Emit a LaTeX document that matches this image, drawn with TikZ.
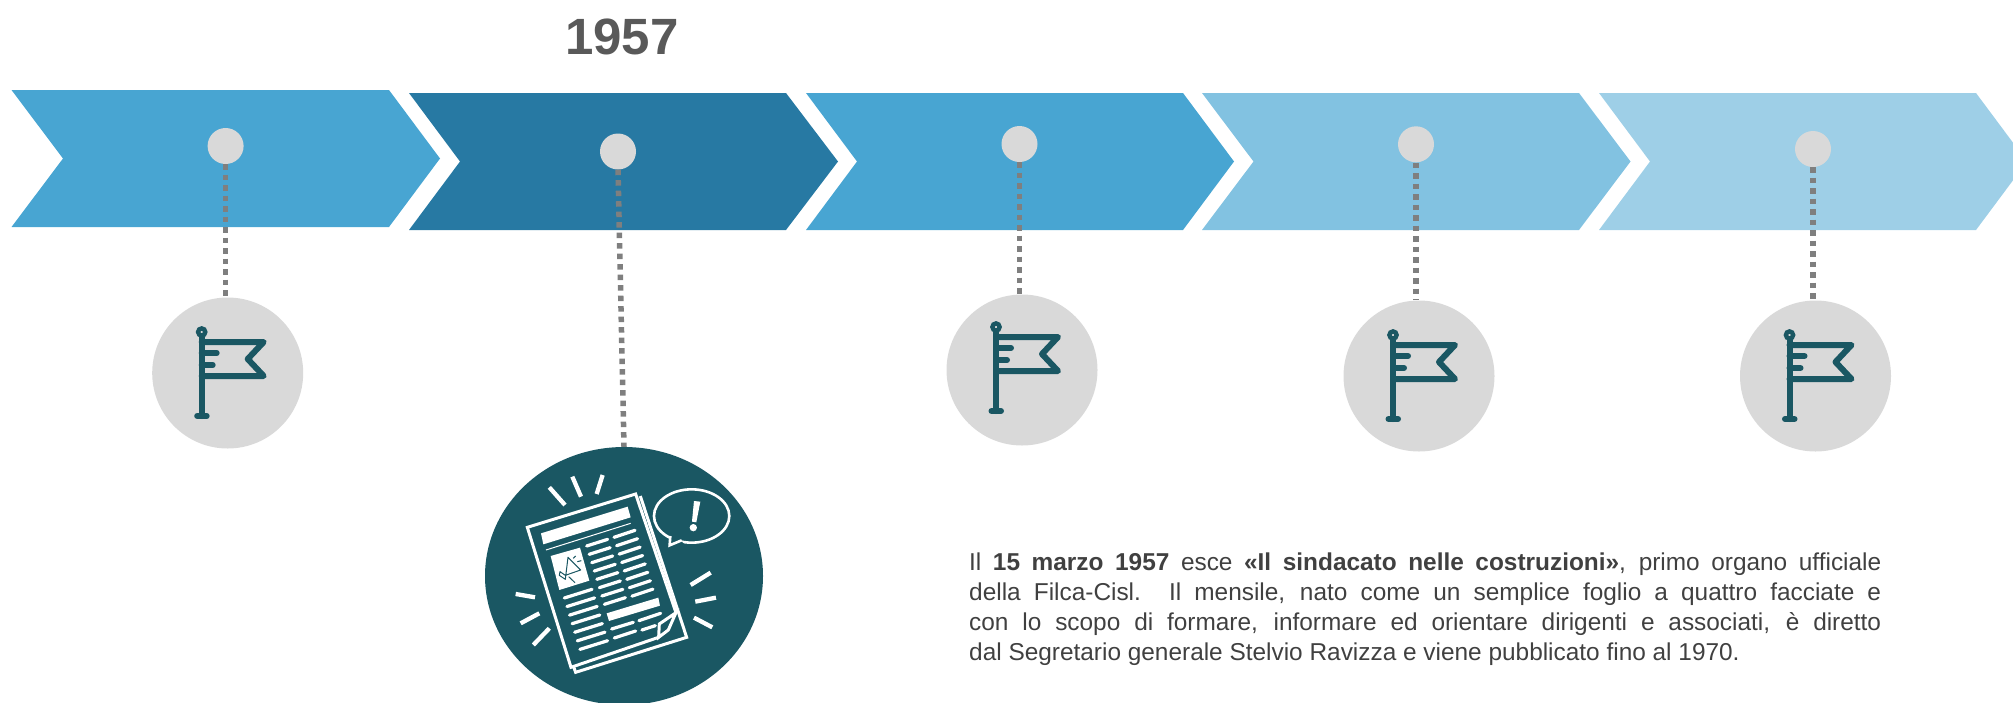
\documentclass[tikz,border=0pt]{standalone}
\usepackage{fontspec}
\setmainfont{Liberation Sans}
\usetikzlibrary{shapes.geometric}

\definecolor{chevmid}{HTML}{48A5D2}
\definecolor{chevdark}{HTML}{2779A3}
\definecolor{chevlight}{HTML}{82C2E1}
\definecolor{chevpale}{HTML}{9ECFE7}
\definecolor{teal}{HTML}{1A5763}
\definecolor{disc}{HTML}{D9D9D9}
\definecolor{dotline}{HTML}{7F7F7F}
\definecolor{bodytext}{HTML}{404040}

\tikzset{
	pin/.style={circle, fill=disc, inner sep=0pt, minimum size=36pt},
	badge/.style={circle, fill=disc, inner sep=0pt, minimum size=151pt},
	link/.style={dotline, line width=5.5pt, dash pattern=on 5.5pt off 5pt},
	flagline/.style={teal, line width=6pt, line cap=round, line join=round},
	paper/.style={white, line width=3pt, line join=miter},
	textline/.style={white, line width=3.2pt, line cap=round},
	ray/.style={white, line width=4.3pt},
}

\newcommand{\flagicon}[1]{
	\begin{scope}[shift={(#1)}]
		\draw[flagline] (-26,-36) -- (-26,43);
		\draw[flagline] (-30.5,43) -- (-21,43);
		\draw[flagline] (-26,-31) -- (36,-31) -- (20,-14) -- (36,3) -- (-26,3);
		\draw[flagline] (-26,-20) -- (-11,-20);
		\draw[flagline] (-26,-8) -- (-15,-8);
		\draw[teal, line width=4.4pt] (-26,-41) circle(3.6);
	\end{scope}
}

\begin{document}
\begin{tikzpicture}[x=1pt, y=-1pt]

	\useasboundingbox (0,0) rectangle (2013,702);

	\fill[chevmid] (11.5,90) -- (389,90) -- (440,158.5) -- (389,227) -- (11.5,227) -- (63,158.5) -- cycle;
	\fill[chevdark] (409,93) -- (786,93) -- (838,161.5) -- (786,230) -- (409,230) -- (460,161.5) -- cycle;
	\fill[chevmid] (806,93) -- (1183,93) -- (1234,161.5) -- (1183,230) -- (806,230) -- (857,161.5) -- cycle;
	\fill[chevlight] (1202,93) -- (1579,93) -- (1630.5,161.5) -- (1579,230) -- (1202,230) -- (1253.5,161.5) -- cycle;
	\fill[chevpale] (1599,93) -- (1976,93) -- (2027,161.5) -- (1976,230) -- (1599,230) -- (1650,161.5) -- cycle;

	\node[pin] (pin1) at (225.6,146) {};
	\node[pin] (pin2) at (618,151.5) {};
	\node[pin] (pin3) at (1019.5,144) {};
	\node[pin] (pin4) at (1416,144.3) {};
	\node[pin] (pin5) at (1813,149) {};

	\node[badge] (badge1) at (227.7,373) {};
	\node[ellipse, fill=teal, inner sep=0pt, minimum width=278pt, minimum height=258pt] (badge2) at (624,576) {};
	\node[badge] (badge3) at (1022,370) {};
	\node[badge] (badge4) at (1419,376) {};
	\node[badge] (badge5) at (1815.5,376) {};

	\draw[link] (pin1.south) -- (pin1.south |- badge1.north);
	\draw[link] (pin2.south) -- (badge2.north);
	\draw[link] (pin3.south) -- (pin3.south |- badge3.north);
	\draw[link] (pin4.south) -- (pin4.south |- badge4.north);
	\draw[link] (pin5.south) -- (pin5.south |- badge5.north);

	\flagicon{227.7,373}
	\flagicon{1022,368}
	\flagicon{1419,376}
	\flagicon{1815.5,376}

	% newspaper, in units of a third of a pixel
	\begin{scope}[shift={(460,430)}, x=0.3333pt, y=-0.3333pt]
		\draw[paper] (648,548) -- (527,192) -- (202,292) -- (333,712) -- (596,622);
		\draw[paper] (541,198) -- (680,622) -- (347,727) -- (340,708);
		\draw[paper] (648,548) -- (598,582) -- (596,622) -- (625,600) -- cycle;

		\fill[white] (243,310) -- (503,230) -- (512,262) -- (250,343) -- cycle;
		\draw[white, line width=1pt] (258,360) -- (512,280);
		\fill[white] (440,550) -- (595,503) -- (600,527) -- (447,573) -- cycle;

		\fill[white] (272,378) -- (360,353) -- (388,452) -- (298,480) -- cycle;
		\draw[teal, line width=1pt, line join=round] (324,382) -- (362,420) -- (316,436) -- (300,425) -- (298,436) -- (316,448) -- cycle;
		\draw[teal, line width=1pt] (326,440) -- (345,458);
		\draw[teal, line width=1pt] (340,385) -- (347,378);
		\draw[teal, line width=1pt] (352,395) -- (364,392);

		\foreach \k in {0,...,7} {
			\draw[textline] (380+7.6*\k,348+25*\k) -- (443+7.6*\k,328+25*\k);
			\draw[textline] (462+7.7*\k,322+25.2*\k) -- (525+7.7*\k,301+25.2*\k);
		}
		\foreach \k in {0,...,6} {
			\draw[textline] (313+7.8*\k,504+25.7*\k) -- (396+7.8*\k,478+25.7*\k);
		}
		\draw[textline] (455,597) -- (520,577);
		\draw[textline] (463,624) -- (527,603);
		\draw[textline] (537,572) -- (602,550);
		\draw[textline] (546,600) -- (586,587);

		\draw[ray] (268,172) -- (315,225);
		\draw[ray] (337,140) -- (363,200);
		\draw[ray] (428,135) -- (410,192);
		\draw[ray] (167,492) -- (225,502);
		\draw[ray] (182,580) -- (238,550);
		\draw[ray] (220,645) -- (268,595);
		\draw[ray] (692,465) -- (752,428);
		\draw[ray] (706,515) -- (768,503);
		\draw[ray] (702,563) -- (757,592);

		\draw[white, line width=2.6pt] (695,258) ellipse[x radius=113, y radius=80];
		\fill[teal] (634,300) -- (625,352) -- (675,345) -- cycle;
		\draw[white, line width=2.6pt, line join=miter] (631,318) -- (629,346) -- (665,331);
		\fill[white] (702,213) -- (721,215) -- (709,277) -- (696,275) -- cycle;
		\fill[white] (700,293) circle(11);
	\end{scope}

	\node[font=\bfseries\fontsize{51}{51}\selectfont, color=black!65] (year) at (622,37) {1957};

	\node[anchor=north west, inner sep=0pt, text width=912pt, align=justify, color=bodytext, font=\fontsize{24.4}{30}\selectfont] (note) at (969,553) {Il \textbf{15 marzo 1957} esce \textbf{«Il sindacato nelle costruzioni»}, primo organo ufficiale\linebreak della Filca-Cisl. Il mensile, nato come un semplice foglio a quattro facciate e\linebreak con lo scopo di formare, informare ed orientare dirigenti e associati, è diretto\linebreak dal Segretario generale Stelvio Ravizza e viene pubblicato fino al 1970.};

\end{tikzpicture}
\end{document}
